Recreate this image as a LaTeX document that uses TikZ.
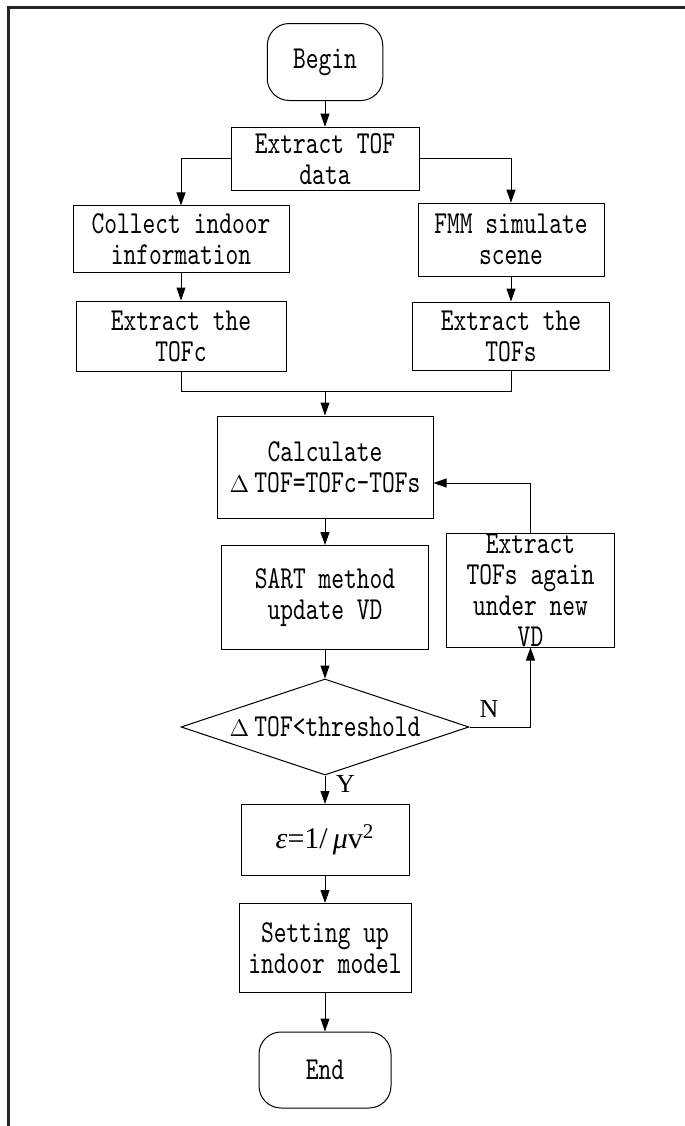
\documentclass[tikz,border=0pt]{standalone}
\usepackage{fontspec}
\newfontfamily\flowfont{lmmono10-regular.otf}[FakeStretch=0.76]
\newfontfamily\timesfont{Liberation Serif}
\newcommand\dtof{{\fontsize{12}{12}\selectfont$\Delta$}\,TOF}
\usetikzlibrary{shapes.geometric,arrows.meta}
\begin{document}
\begin{tikzpicture}[x=0.5pt,y=-0.5pt,
    font=\flowfont\fontsize{16}{15.5}\selectfont,
    procbox/.style={draw, line width=0.5pt, align=center, inner sep=0pt},
    termbox/.style={procbox, rounded corners=11pt},
    testbox/.style={draw, line width=0.5pt, diamond, aspect=3, inner sep=0pt},
    flowarrow/.style={-{Triangle[length=6.5pt,width=4.5pt]}, line width=0.5pt},
    yesno/.style={font=\timesfont\fontsize{13}{13}\selectfont}]
        \useasboundingbox (0,0) rectangle (685,1126);
        \draw [line width=1.5pt, black!85] (8.7,1126) -- (8.7,7.4) -- (685,7.4);

        \node [termbox, minimum width=57.75pt, minimum height=38.5pt] (begin) at (325,62) {Begin};
        \node [procbox, minimum width=94pt, minimum height=31.5pt] (extract) at (325,158.7) {Extract TOF\\data};

        \node [procbox, minimum width=108pt, minimum height=33.5pt] (collect) at (181,239.4) {Collect indoor\\information};
        \node [procbox, minimum width=93pt, minimum height=36.5pt] (fmm) at (511,239.7) {FMM simulate\\scene};
        \node [procbox, minimum width=105pt, minimum height=35pt] (tofc) at (181,336) {Extract the\\TOFc};
        \node [procbox, minimum width=98.5pt, minimum height=34pt] (tofs) at (511,336) {Extract the\\TOFs};
        \coordinate (join) at (325,391.7);

        \node [procbox, minimum width=108pt, minimum height=51pt] (calc) at (325,467) {Calculate\\\dtof=TOFc-TOFs};
        \node [procbox, minimum width=103.5pt, minimum height=52pt] (sart) at (325,597.5) {SART method\\update VD};
        \node [procbox, minimum width=84pt, minimum height=57pt] (again) at (530.5,590) {Extract\\TOFs again\\under new\\VD};
        \node [testbox, minimum width=144pt, minimum height=48pt] (check) at (325,727) {\dtof<threshold};

        \node [procbox, minimum width=84pt, minimum height=35.5pt] (eps) at (325,840)
          {\timesfont\fontsize{15}{15}\selectfont\itshape ε\upshape=1/\,\itshape μ\upshape v\textsuperscript{2}};
        \node [procbox, minimum width=86pt, minimum height=44.5pt] (setup) at (325,948) {Setting up\\indoor model};
        \node [termbox, minimum width=66pt, minimum height=38pt] (finish) at (325,1070) {End};

        \draw [flowarrow] (begin) -- (extract);
        \draw [flowarrow] (extract.west) -| (collect.north);
        \draw [flowarrow] (extract.east) -| (fmm.north);
        \draw [flowarrow] (collect) -- (tofc);
        \draw [flowarrow] (fmm) -- (tofs);
        \draw (tofc.south) |- (join) -| (tofs.south);
        \draw [flowarrow] (join) -- (calc);
        \draw [flowarrow] (calc) -- (sart);
        \draw [flowarrow] (sart) -- (check);
        \draw [flowarrow] (check.east) -| (again.south)
          node [yesno, above, pos=0.16, yshift=1pt] {N};
        \draw [flowarrow] (again.north) |- ([yshift=-8pt]calc.east);
        \draw [flowarrow] (check.south) -- (eps.north)
          node [yesno, right, pos=0.28, xshift=2pt] {Y};
        \draw [flowarrow] (eps) -- (setup);
        \draw [flowarrow] (setup) -- (finish);
      \end{tikzpicture}
\end{document}
